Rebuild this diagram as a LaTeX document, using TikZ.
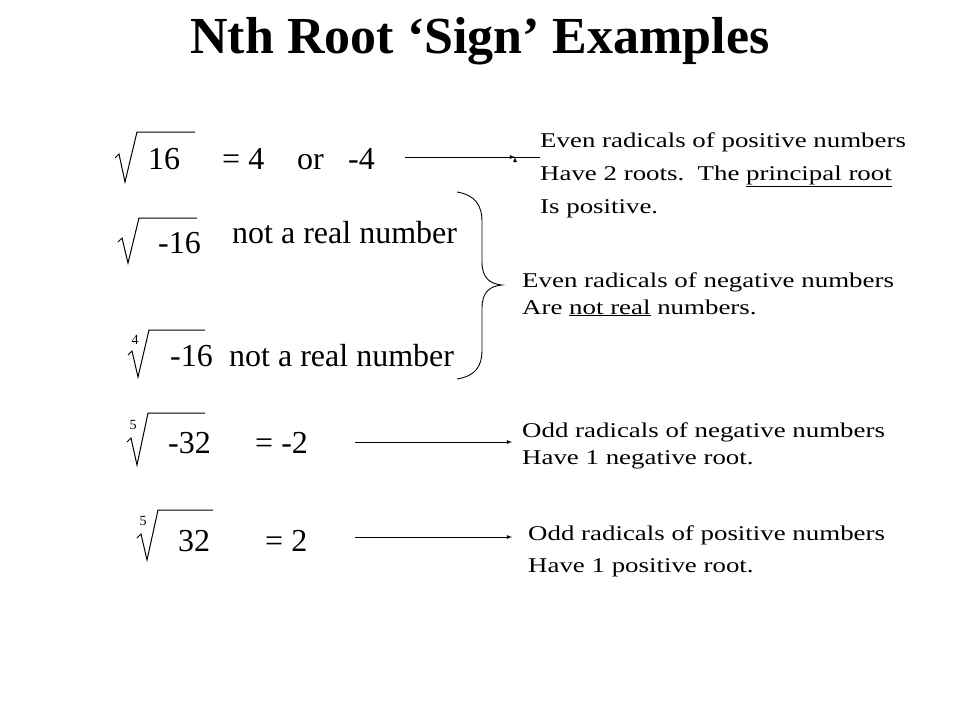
\documentclass[tikz,border=0pt]{standalone}
\usepackage{fontspec}
\setmainfont{Liberation Serif}
\newfontfamily\descfont[FakeStretch=1.28]{Liberation Serif}
\begin{document}
\begin{tikzpicture}[x=1pt,y=-1pt,
  big/.style={font=\fontsize{32}{34}\selectfont,inner sep=0pt,anchor=base west},
  desc/.style={font=\descfont\fontsize{21}{24}\selectfont,inner sep=0pt,anchor=base west},
  idx/.style={font=\fontsize{14}{14}\selectfont,inner sep=0pt},
  rad/.style={line width=1pt},
  arr/.style={-latex,line width=0.8pt}]
\useasboundingbox (0,0) rectangle (960,720);
\node[font=\fontsize{52}{56}\selectfont\bfseries,inner sep=0pt,anchor=base] (title) at (480,53) {Nth Root ‘Sign’ Examples};
% row 1
\draw[rad] (115,158) -- (119,154) -- (125,182) -- (137,132) -- (195,132);
\node[big] (a1) at (148,169) {16};
\node[big] (a2) at (222,169) {= 4};
\node[big] (a3) at (297,169) {or};
\node[big] (a4) at (348,169) {-4};
% row 2
\draw[rad] (118,242) -- (122,238) -- (128,263) -- (139,218) -- (197,218);
\node[big] (b1) at (158,253) {-16};
\node[big] (b2) at (232,243) {not a real number};
% row 3
\draw[rad] (128,355) -- (132,351) -- (138,377) -- (149,330) -- (205,330);
\node[idx] (c0) at (135,340) {4};
\node[big] (c1) at (170,366) {-16};
\node[big] (c2) at (229,366) {not a real number};
% row 4
\draw[rad] (127,442) -- (131,438) -- (137,465) -- (148,413) -- (205,413);
\node[idx] (d0) at (133,425) {5};
\node[big] (d1) at (168,453) {-32};
\node[big] (d2) at (255,453) {= -2};
% row 5
\draw[rad] (137,538) -- (141,534) -- (147,560) -- (158,510) -- (213,510);
\node[idx] (e0) at (143,521) {5};
\node[big] (e1) at (178,551) {32};
\node[big] (e2) at (265,551) {= 2};
% descriptions
\node[desc] (t1) at (540,147) {Even radicals of positive numbers};
\node[desc] (t1b) at (540,180) {Have 2 roots.\ \ The \underline{principal root}};
\node[desc] (t1c) at (540,213) {Is positive.};
\node[desc] (t2) at (522,287) {Even radicals of negative numbers};
\node[desc] (t2b) at (522,314) {Are \underline{not real} numbers.};
\node[desc] (t3) at (522,437) {Odd radicals of negative numbers};
\node[desc] (t3b) at (522,464) {Have 1 negative root.};
\node[desc] (t4) at (528,540) {Odd radicals of positive numbers};
\node[desc] (t4b) at (528,572) {Have 1 positive root.};
% arrows
\coordinate (s1) at (405,157); \coordinate (s2) at (355,442); \coordinate (s3) at (355,537);
\draw[arr] (s1) -- (t1.west |- s1) ++(-25,0);
\draw[arr] (s1) -- ([xshift=-25pt]t1.west |- s1);
\draw[arr] (s2) -- ([xshift=-10pt]t3.west |- s2);
\draw[arr] (s3) -- ([xshift=-16pt]t4.west |- s3);
% brace
\draw[line width=0.9pt] (457,192) .. controls (475,195) and (482,205) .. (482,222)
  -- (482,262) .. controls (482,278) and (490,284) .. (502,285)
  .. controls (490,286) and (482,292) .. (482,308)
  -- (482,350) .. controls (482,367) and (475,376) .. (457,379);
\end{tikzpicture}
\end{document}
